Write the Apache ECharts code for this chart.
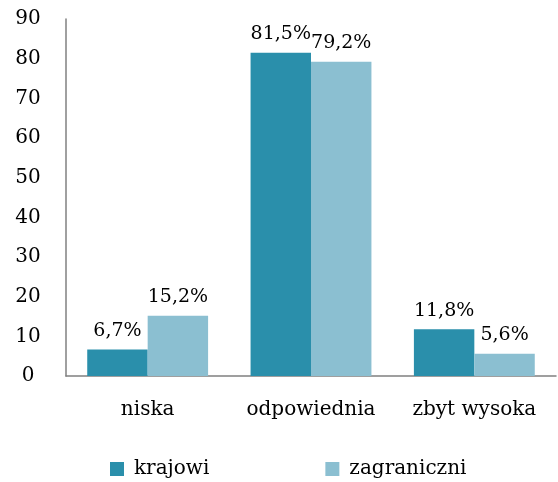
<!DOCTYPE html>
<html>
<head>
<meta charset="utf-8">
<script src="https://cdn.jsdelivr.net/npm/echarts@6/dist/echarts.min.js"></script>
<style>
html, body { margin: 0; padding: 0; background: #fff; }
#chart { width: 558px; height: 482px; }
</style>
</head>
<body>
<div id="chart"></div>
<script>
var categories = ['niska', 'odpowiednia', 'zbyt wysoka'];
var krajowi = [6.7, 81.5, 11.8];
var zagraniczni = [15.2, 79.2, 5.6];
var yTicks = [0, 10, 20, 30, 40, 50, 60, 70, 80, 90];

var chart = echarts.init(document.getElementById('chart'));
var font = 'DejaVu Serif';

function pct(p) {
    return String(p.value).replace('.', ',') + '%';
}

var option = {
    animation: false,
    textStyle: { fontFamily: font },
    grid: { left: 66, right: 2, top: 19, bottom: 106 },
    legend: {
        bottom: -2,
        left: 105,
        itemGap: 116,
        itemWidth: 14,
        itemHeight: 14,
        icon: 'rect',
        textStyle: { fontFamily: font, fontSize: 20, color: '#000', padding: [0, 0, 0, 5] },
        data: ['krajowi', 'zagraniczni']
    },
    xAxis: {
        type: 'category',
        data: categories,
        axisLine: { lineStyle: { color: '#808080', width: 1.5 } },
        axisTick: { show: false },
        axisLabel: { interval: 0, hideOverlap: false, margin: 24, fontFamily: font, fontSize: 20, color: '#000' }
    },
    yAxis: {
        type: 'value',
        min: yTicks[0],
        max: yTicks[yTicks.length - 1],
        interval: 10,
        axisLine: { show: true, lineStyle: { color: '#808080', width: 1.5 } },
        axisTick: { show: false },
        splitLine: { show: false },
        axisLabel: { margin: 38, fontFamily: font, fontSize: 20, color: '#000', align: 'center' }
    },
    series: [
        {
            name: 'krajowi',
            type: 'bar',
            data: krajowi,
            barGap: '0%',
            barCategoryGap: '26%',
            itemStyle: { color: '#2A8FAB' },
            label: { show: true, position: 'top', distance: 9, formatter: pct, fontFamily: font, fontSize: 19, color: '#000' }
        },
        {
            name: 'zagraniczni',
            type: 'bar',
            data: zagraniczni,
            itemStyle: { color: '#8BBFD1' },
            label: { show: true, position: 'top', distance: 9, formatter: pct, fontFamily: font, fontSize: 19, color: '#000' }
        }
    ]
};
chart.setOption(option);
</script>
</body>
</html>
